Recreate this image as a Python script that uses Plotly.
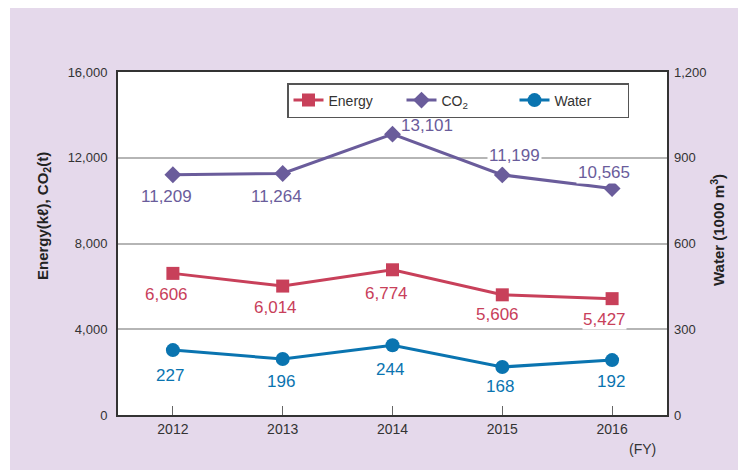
import plotly.graph_objects as go

years = [2012, 2013, 2014, 2015, 2016]
energy = [6606, 6014, 6774, 5606, 5427]
co2 = [11209, 11264, 13101, 11199, 10565]
water = [227, 196, 244, 168, 192]

left_ticks = [0, 4000, 8000, 12000, 16000]
left_ticktext = ["0", "4,000", "8,000", "12,000", "16,000"]
right_ticks = [0, 300, 600, 900, 1200]
right_ticktext = ["0", "300", "600", "900", "1,200"]

C_ENERGY = "#c8405a"
C_CO2 = "#6a5c9b"
C_WATER = "#0a74b0"
BG = "#e5d9eb"
LABEL_FONT = "Liberation Sans, Arial, sans-serif"
TICK_FONT = "Liberation Sans Narrow, Arial Narrow, Liberation Sans, Arial, sans-serif"

fig = go.Figure()
fig.add_trace(go.Scatter(
    x=years, y=energy, name="Energy", mode="lines+markers",
    line=dict(color=C_ENERGY, width=3),
    marker=dict(symbol="square", size=13, color=C_ENERGY),
))
fig.add_trace(go.Scatter(
    x=years, y=co2, name="CO<sub>2</sub>", mode="lines+markers",
    line=dict(color=C_CO2, width=3),
    marker=dict(symbol="diamond", size=13, color=C_CO2),
))
fig.add_trace(go.Scatter(
    x=years, y=water, name="Water", mode="lines+markers", yaxis="y2",
    line=dict(color=C_WATER, width=3),
    marker=dict(symbol="circle", size=14, color=C_WATER),
))

annotations = []
# label offsets in pixels (xshift, yshift)
energy_off = [(-6, -21), (-7, -21), (-6, -24), (-5, -20), (-8, -21)]
co2_off = [(-6, -22), (-6, -23), (34, 9), (12, 19), (-8, 16)]
co2_bg = [True, True, False, True, True]
water_off = [(-3, -25), (-2, -23), (-3, -24), (-2, -20), (-1, -21)]

for i, yr in enumerate(years):
    annotations.append(dict(
        x=yr, y=energy[i], xref="x", yref="y", text=f"{energy[i]:,}",
        showarrow=False, xshift=energy_off[i][0], yshift=energy_off[i][1],
        font=dict(family=LABEL_FONT, size=17, color=C_ENERGY),
        bgcolor="white", borderpad=0,
    ))
    annotations.append(dict(
        x=yr, y=co2[i], xref="x", yref="y", text=f"{co2[i]:,}",
        showarrow=False, xshift=co2_off[i][0], yshift=co2_off[i][1],
        font=dict(family=LABEL_FONT, size=17, color=C_CO2),
        bgcolor="white" if co2_bg[i] else "rgba(0,0,0,0)", borderpad=1,
    ))
    annotations.append(dict(
        x=yr, y=water[i], xref="x", yref="y2", text=f"{water[i]:,}",
        showarrow=False, xshift=water_off[i][0], yshift=water_off[i][1],
        font=dict(family=LABEL_FONT, size=17, color=C_WATER),
        bgcolor="white", borderpad=0,
    ))

# page body has 8px margin: figure coords = page coords - 8
OFF = 8
W, H = 746 - OFF, 470 - OFF
L, R, T, B = 118 - OFF, 79, 72 - OFF, 55
pw, ph = W - L - R, H - T - B


def px(v):
    return (v - OFF - L) / pw


def py(v):
    return (H - B - (v - OFF)) / ph


annotations.append(dict(
    x=px(43), y=py(216), xref="paper", yref="paper", xanchor="center", yanchor="middle",
    text="Energy(kℓ), CO<sub>2</sub>(t)", textangle=-90, showarrow=False,
    font=dict(family=LABEL_FONT, size=15, color="#222222", weight="bold"),
))
annotations.append(dict(
    x=px(717), y=py(230), xref="paper", yref="paper", xanchor="center", yanchor="middle",
    text="Water (1000 m<sup>3</sup>)", textangle=-90, showarrow=False,
    font=dict(family=LABEL_FONT, size=15, color="#222222", weight="bold"),
))
annotations.append(dict(
    x=px(642), y=py(449), xref="paper", yref="paper", xanchor="center", yanchor="middle",
    text="(FY)", showarrow=False,
    font=dict(family=TICK_FONT, size=14, color="#333333"),
))

shapes = [
    dict(type="rect", xref="paper", yref="paper", x0=px(OFF), x1=px(10), y0=py(470), y1=py(OFF),
         fillcolor="white", line=dict(width=0), layer="above"),
    dict(type="rect", xref="paper", yref="paper", x0=px(743), x1=px(746), y0=py(470), y1=py(OFF),
         fillcolor="#c9c9c9", line=dict(width=0), layer="above"),
]

fig.update_layout(
    width=W, height=H,
    margin=dict(l=L, r=R, t=T, b=B, autoexpand=False),
    paper_bgcolor=BG, plot_bgcolor="white",
    showlegend=True,
    legend=dict(
        orientation="h", x=px(287), y=py(83), xanchor="left", yanchor="top",
        bgcolor="white", bordercolor="#555555", borderwidth=1.5,
        font=dict(family=LABEL_FONT, size=14, color="#333333"),
        entrywidth=68,
    ),
    xaxis=dict(
        range=[2011.5, 2016.5], tickmode="array", tickvals=years,
        ticktext=[str(y) for y in years],
        showline=True, linecolor="#333333", linewidth=2, mirror=True,
        ticks="inside", ticklen=9, tickcolor="#666666", tickwidth=1,
        showgrid=False, zeroline=False,
        tickfont=dict(family=TICK_FONT, size=14, color="#333333"),
    ),
    yaxis=dict(
        range=[0, 16000], tickmode="array", tickvals=left_ticks, ticktext=left_ticktext,
        showline=True, linecolor="#333333", linewidth=2, mirror=True,
        showgrid=True, gridcolor="#b5b5b5", gridwidth=1.5, zeroline=False,
        ticks="", ticklabelstandoff=6,
        tickfont=dict(family=TICK_FONT, size=13, color="#333333"),
    ),
    yaxis2=dict(
        range=[0, 1200], tickmode="array", tickvals=right_ticks, ticktext=right_ticktext,
        overlaying="y", side="right", showgrid=False, zeroline=False, showline=False,
        ticks="", ticklabelstandoff=6,
        tickfont=dict(family=TICK_FONT, size=13, color="#333333"),
    ),
    annotations=annotations,
    shapes=shapes,
)

fig.write_html("out.html")
